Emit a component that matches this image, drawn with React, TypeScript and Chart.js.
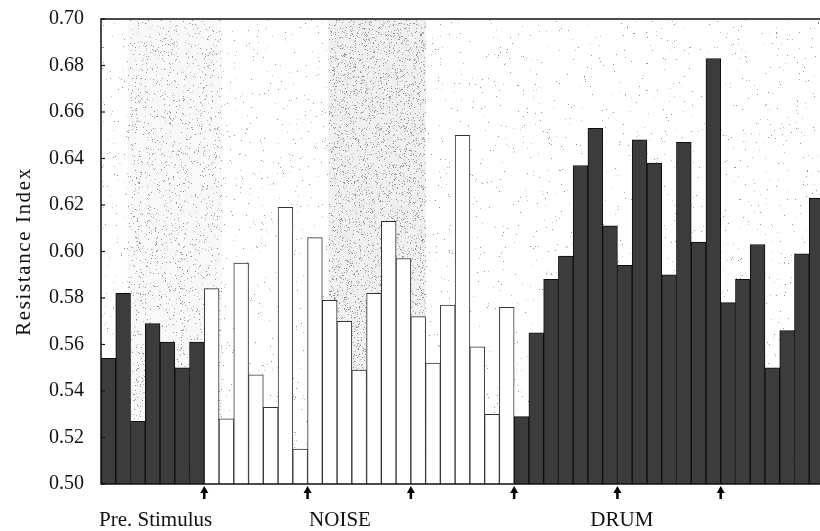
import React, { useEffect, useRef } from "react";
import { Chart, registerables } from "chart.js";

Chart.register(...registerables);

// Resistance index per trial
const preStimulus = [0.554, 0.582, 0.527, 0.569, 0.561, 0.550, 0.561];
const noise = [
  0.584, 0.528, 0.595, 0.547, 0.533, 0.619, 0.515, 0.606, 0.579, 0.570, 0.549,
  0.582, 0.613, 0.597, 0.572, 0.552, 0.577, 0.650, 0.559, 0.530, 0.576,
];
const drum = [
  0.529, 0.565, 0.588, 0.598, 0.637, 0.653, 0.611, 0.594, 0.648, 0.638, 0.590,
  0.647, 0.604, 0.683, 0.578, 0.588, 0.603, 0.550, 0.566, 0.599, 0.623,
];
const groupNames = ["Pre. Stimulus", "NOISE", "DRUM"];
// stimulus onset markers (after this many trials)
const stimulusMarks = [7, 14, 21, 28, 35, 42];
const yTitle = "Resistance Index";

const values = [...preStimulus, ...noise, ...drum];
const categories = values.map((_, i) => `T${i + 1}`);
const groupOf = values.map((_, i) =>
  i < preStimulus.length ? 0 : i < preStimulus.length + noise.length ? 1 : 2
);

const SERIF = "'Liberation Serif', 'Times New Roman', serif";

// deterministic hash for the print-like stipple texture of the background
function hash(i: number, j: number) {
  let h = (i * 374761393 + j * 668265263) | 0;
  h = (h ^ (h >>> 13)) * 1274126177;
  h = h ^ (h >>> 16);
  return ((h >>> 0) % 10000) / 10000;
}

const decor = {
  id: "decor",
  beforeDatasetsDraw(chart: any) {
    const { ctx, chartArea: a } = chart;
    const n = categories.length;
    const bw = (a.right - a.left) / n;
    const x1 = a.left + 1.8 * bw;
    const x2 = a.left + 8.2 * bw;
    const x3 = a.left + 15.4 * bw;
    const x4 = a.left + 22 * bw;
    ctx.save();
    ctx.fillStyle = "#f8f8f8";
    ctx.fillRect(x1, a.top, x2 - x1, a.bottom - a.top);
    ctx.fillStyle = "#f0f0f0";
    ctx.fillRect(x3, a.top, x4 - x3, a.bottom - a.top);
    for (let px = Math.ceil(a.left) + 1; px < a.right; px++) {
      let d = 0.01;
      if (px >= x1 && px <= x2) d = 0.055;
      if (px >= x3 && px <= x4) d = 0.12;
      for (let py = Math.ceil(a.top) + 1; py < a.bottom; py++) {
        const r = hash(px, py);
        if (r < d) {
          const s = hash(py, px);
          ctx.fillStyle = s < 0.5 ? "#929292" : "#c0c0c0";
          ctx.fillRect(px, py, 1, 1);
        }
      }
    }
    ctx.restore();
  },
  afterDatasetsDraw(chart: any) {
    const { ctx, chartArea: a, scales } = chart;
    const y = scales.y;
    const n = categories.length;
    const bw = (a.right - a.left) / n;
    const px = (u: number) => a.left + u * bw;
    ctx.save();
    // frame
    ctx.strokeStyle = "#111";
    ctx.lineWidth = 1.5;
    ctx.beginPath();
    ctx.moveTo(a.right + 10, a.top);
    ctx.lineTo(a.left, a.top);
    ctx.lineTo(a.left, a.bottom);
    ctx.lineTo(a.right + 10, a.bottom);
    ctx.stroke();
    // inward tick marks
    ctx.lineWidth = 1.2;
    y.ticks.forEach((t: any) => {
      const yy = y.getPixelForValue(t.value);
      ctx.beginPath();
      ctx.moveTo(a.left, yy);
      ctx.lineTo(a.left + 4, yy);
      ctx.stroke();
    });
    // arrows
    ctx.fillStyle = "#000";
    stimulusMarks.forEach((m) => {
      const xx = px(m);
      const tip = a.bottom + 2;
      ctx.beginPath();
      ctx.moveTo(xx, tip);
      ctx.lineTo(xx - 4, tip + 7);
      ctx.lineTo(xx + 4, tip + 7);
      ctx.closePath();
      ctx.fill();
      ctx.fillRect(xx - 1.25, tip + 6, 2.5, 7);
    });
    // group labels
    const centers = [3.7, 16.2, 35.3];
    ctx.font = `21px ${SERIF}`;
    ctx.textAlign = "center";
    ctx.textBaseline = "alphabetic";
    ctx.fillStyle = "#111";
    groupNames.forEach((g, i) => {
      ctx.fillText(g, px(centers[i]), 526);
    });
    // y title
    ctx.translate(30, (a.top + a.bottom) / 2);
    ctx.rotate(-Math.PI / 2);
    ctx.font = `21px ${SERIF}`;
    (ctx as any).letterSpacing = "1.6px";
    ctx.textAlign = "center";
    ctx.fillText(yTitle, 0, 0);
    ctx.restore();
  },
};

export default function App() {
  const ref = useRef<HTMLCanvasElement | null>(null);
  useEffect(() => {
    if (!ref.current) return;
    const chart = new Chart(ref.current, {
      type: "bar",
      data: {
        labels: categories,
        datasets: [
          {
            data: values,
            backgroundColor: groupOf.map((g) => (g === 1 ? "#ffffff" : "#3c3c3c")),
            borderColor: groupOf.map((g) => (g === 1 ? "#333333" : "#0d0d0d")),
            borderWidth: 1,
            barPercentage: 1,
            categoryPercentage: 1,
          },
        ],
      },
      options: {
        animation: false,
        responsive: false,
        devicePixelRatio: 1,
        layout: { padding: { top: 19, left: 0, right: 0, bottom: 0 } },
        plugins: { legend: { display: false }, tooltip: { enabled: false }, title: { display: false } },
        scales: {
          x: {
            ticks: { display: false },
            grid: { display: false },
            border: { display: false },
            afterFit: (s: any) => {
              s.height = 47;
            },
          },
          y: {
            min: 0.5,
            max: 0.7,
            ticks: {
              stepSize: 0.02,
              padding: 17,
              color: "#111",
              font: { family: SERIF, size: 20 },
              callback: (v: any) => Number(v).toFixed(2),
            },
            grid: { display: false, drawTicks: false },
            border: { display: false },
            afterFit: (s: any) => {
              s.width = 101;
              s.paddingTop = 0;
              s.paddingBottom = 0;
            },
          },
        },
      },
      plugins: [decor],
    });
    return () => chart.destroy();
  }, []);
  return (
    <div
      style={{
        position: "fixed",
        left: 0,
        top: 0,
        width: 820,
        height: 531,
        overflow: "hidden",
        background: "#fff",
      }}
    >
      <canvas ref={ref} width={824} height={531} style={{ width: 824, height: 531, display: "block" }} />
    </div>
  );
}
